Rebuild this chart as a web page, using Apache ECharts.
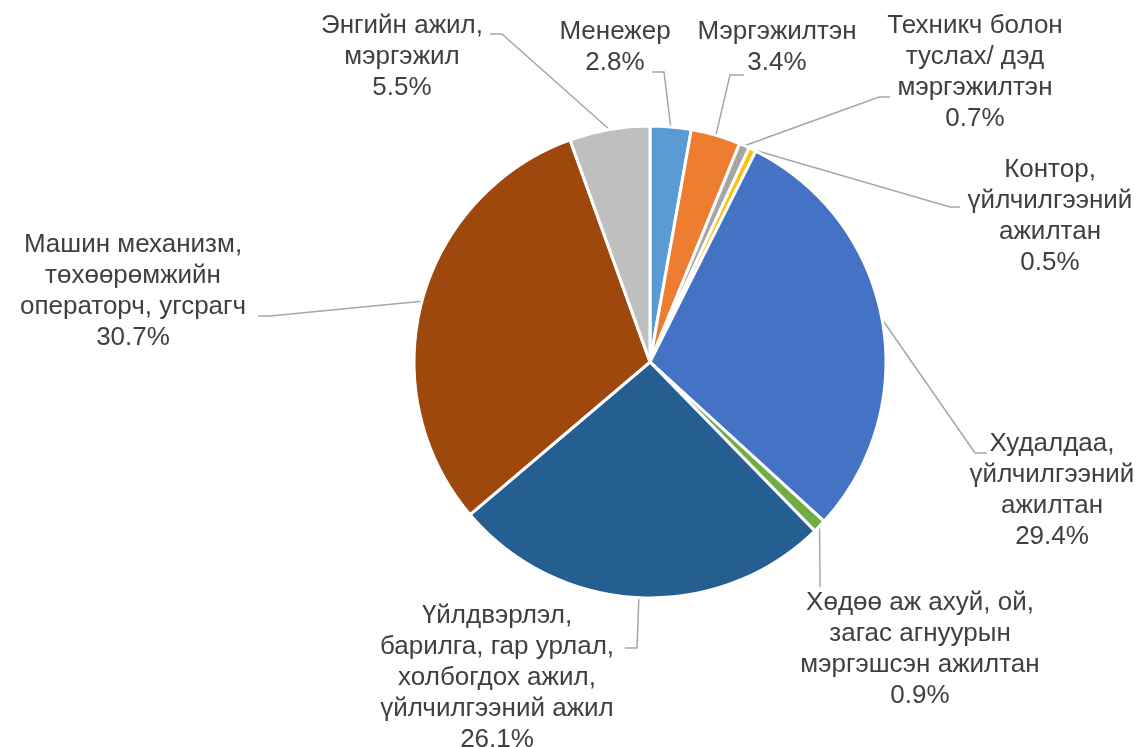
<!DOCTYPE html>
<html>
<head>
<meta charset="utf-8">
<script src="https://cdn.jsdelivr.net/npm/echarts@6/dist/echarts.min.js"></script>
<style>
  html, body { margin: 0; padding: 0; background: #fff; }
  #main { width: 1142px; height: 747px; }
</style>
</head>
<body>
<div id="main"></div>
<script>
// ажил мэргэжлийн ангилал
const categories = [
  'Менежер',
  'Мэргэжилтэн',
  'Техникч болон\nтуслах/ дэд\nмэргэжилтэн',
  'Контор,\nүйлчилгээний\nажилтан',
  'Худалдаа,\nүйлчилгээний\nажилтан',
  'Хөдөө аж ахуй, ой,\nзагас агнуурын\nмэргэшсэн ажилтан',
  'Үйлдвэрлэл,\nбарилга, гар урлал,\nхолбогдох ажил,\nүйлчилгээний ажил',
  'Машин механизм,\nтөхөөрөмжийн\nоператорч, угсрагч',
  'Энгийн ажил,\nмэргэжил'
];
const shares = [2.8, 3.4, 0.7, 0.5, 29.4, 0.9, 26.1, 30.7, 5.5];
const colors = ['#5B9BD5', '#ED7D31', '#A5A5A5', '#FFC000', '#4472C4', '#70AD47', '#255E91', '#9E480E', '#BFBFBF'];

// label block centres (px)
const labelPos = [
  [615, 47], [777, 47], [975, 72], [1050, 216], [1052, 490],
  [920, 649], [497, 678], [133, 291], [402, 57]
];
// where the leader line meets the label, and its short elbow
const leaderEnd = [
  [652, 72], [744, 75], [890, 97], [960, 207], [987, 453],
  [820, 587], [625, 648], [258, 316], [490, 34]
];
const leaderElbow = [
  [664, 72], [730, 75], [879, 97], [950, 207], [975, 453],
  [820, 577], [637, 648], [270, 316], [502, 34]
];

const chart = echarts.init(document.getElementById('main'));

chart.setOption({
  backgroundColor: '#ffffff',
  animation: false,
  color: colors,
  series: [
    {
      type: 'pie',
      center: [650, 362],
      radius: [0, 236],
      startAngle: 90,
      clockwise: true,
      avoidLabelOverlap: false,
      itemStyle: {
        borderColor: '#ffffff',
        borderWidth: 3
      },
      label: {
        show: true,
        color: '#404040',
        fontFamily: '"Liberation Sans", Arial, sans-serif',
        fontSize: 26,
        lineHeight: 31,
        align: 'center',
        formatter: function (p) {
          return p.name + '\n' + p.value.toFixed(1) + '%';
        }
      },
      labelLine: {
        show: true,
        length: 20,
        length2: 10,
        lineStyle: {
          color: '#A6A6A6',
          width: 1.5
        }
      },
      labelLayout: function (params) {
        const i = params.dataIndex;
        const pos = labelPos[i];
        const out = {
          x: pos[0],
          y: pos[1],
          align: 'center',
          verticalAlign: 'middle'
        };
        if (params.labelLinePoints && params.labelLinePoints.length) {
          const start = params.labelLinePoints[0];
          out.labelLinePoints = [
            [start[0], start[1]],
            leaderElbow[i].slice(),
            leaderEnd[i].slice()
          ];
        }
        return out;
      },
      data: categories.map(function (name, i) {
        return { name: name, value: shares[i] };
      })
    }
  ]
});
</script>
</body>
</html>
